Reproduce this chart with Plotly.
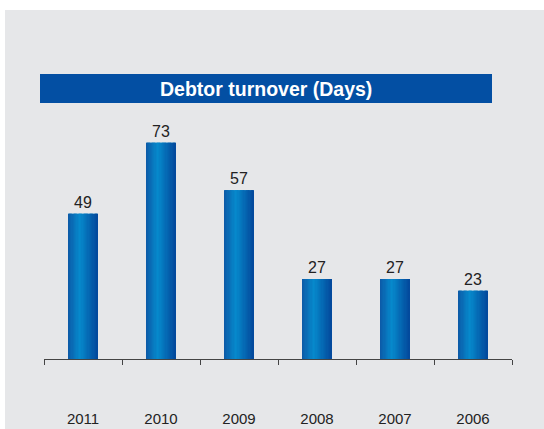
import plotly.graph_objects as go

years = ["2011", "2010", "2009", "2008", "2007", "2006"]
days = [49, 73, 57, 27, 27, 23]
title_text = "Debtor turnover (Days)"

W, H = 544, 429
ML, MR, MT, MB = 44, 32, 122, 70
YMAX = 80
BAR_W = 0.38
N_STRIPS = 24
FONT = "Liberation Sans, Arial, sans-serif"

def lerp(c1, c2, t):
    return tuple(round(a + (b - a) * t) for a, b in zip(c1, c2))

dark_l = (12, 88, 166)
light = (6, 138, 204)
dark_r = (3, 72, 155)

def color_at(p):
    if p < 0.4:
        c = lerp(dark_l, light, p / 0.4)
    else:
        c = lerp(light, dark_r, (p - 0.4) / 0.6)
    return "rgb(%d,%d,%d)" % c

fig = go.Figure()

# base bar with value labels
fig.add_trace(go.Bar(
    x=years, y=days, width=BAR_W,
    marker=dict(color=color_at(0.5), line=dict(width=0)),
    text=[str(v) for v in days], textposition="outside",
    textfont=dict(family=FONT, size=16, color="#222222"),
    cliponaxis=False, hoverinfo="skip",
))

sw = BAR_W / N_STRIPS
for i in range(N_STRIPS):
    p = (i + 0.5) / N_STRIPS
    fig.add_trace(go.Bar(
        x=years, y=days, width=sw * 1.05,
        offset=-BAR_W / 2 + i * sw,
        marker=dict(color=color_at(p), line=dict(width=0)),
        hoverinfo="skip",
    ))

pw = W - ML - MR
ph = H - MT - MB

def px_x(x):
    return (x - ML) / pw

def px_y(y):
    return (H - MB - y) / ph

shapes = [
    dict(type="rect", xref="paper", yref="paper", layer="below",
         x0=px_x(5), x1=px_x(W + 60), y0=px_y(H + 60), y1=px_y(10),
         fillcolor="#e6e7e9", line=dict(width=0)),
    dict(type="rect", xref="paper", yref="paper",
         x0=px_x(40), x1=px_x(492), y0=px_y(103), y1=px_y(74),
         fillcolor="#034fa3", line=dict(width=0)),
]

fig.update_layout(
    width=W, height=H,
    margin=dict(l=ML, r=MR, t=MT, b=MB, autoexpand=False),
    paper_bgcolor="white", plot_bgcolor="rgba(0,0,0,0)",
    barmode="overlay", showlegend=False,
    shapes=shapes,
    annotations=[dict(
        text="<b>%s</b>" % title_text, xref="paper", yref="paper",
        x=px_x(266), y=px_y(88.5), showarrow=False,
        xanchor="center", yanchor="middle",
        font=dict(family=FONT, size=19.5, color="white"),
    )],
    xaxis=dict(
        type="category", range=[-0.5, 5.5], automargin=False,
        showline=True, linecolor="#444444", linewidth=1,
        ticks="outside", tickson="boundaries", ticklen=5, tickcolor="#444444",
        showgrid=False, zeroline=False,
        ticklabelstandoff=46,
        tickfont=dict(family=FONT, size=15, color="#222222"),
    ),
    yaxis=dict(range=[0, YMAX], visible=False, showgrid=False, zeroline=False,
               automargin=False),
)

fig.write_html("out.html", config={"displayModeBar": False},
               post_script="document.body.style.margin='0';")
